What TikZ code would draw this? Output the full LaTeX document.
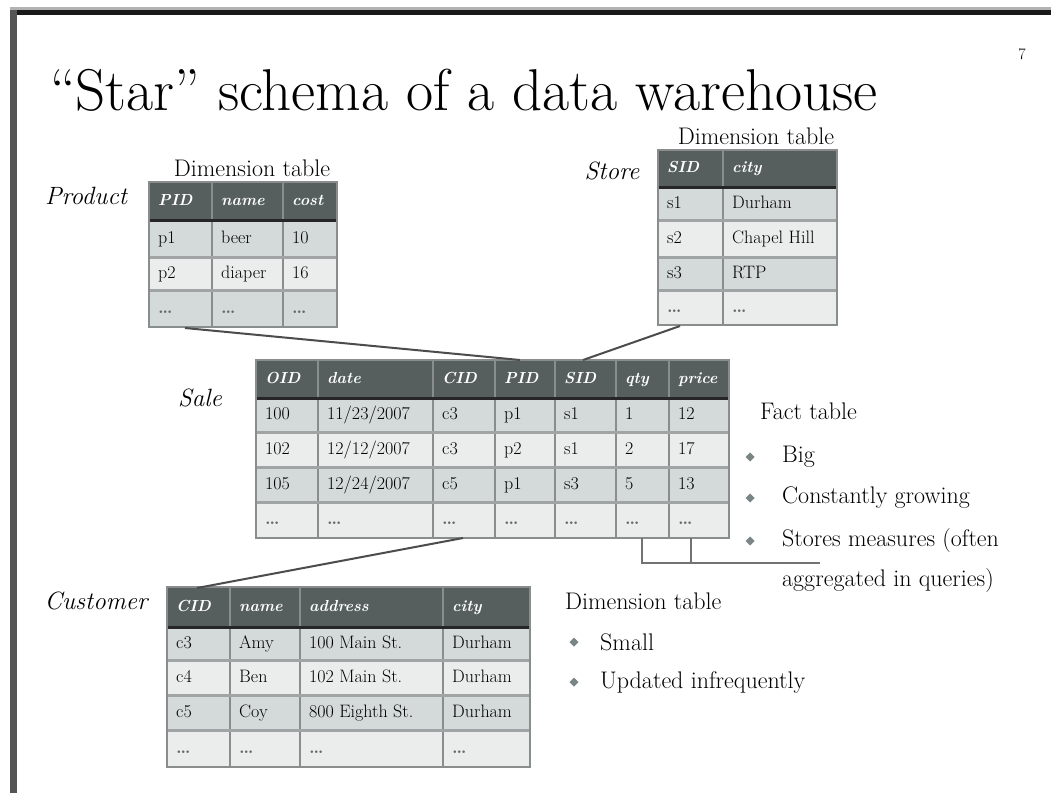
\documentclass[tikz,border=0pt]{standalone}
\usepackage{fontspec}
\usepackage{tikz}
\usetikzlibrary{calc}
\definecolor{hdrgray}{HTML}{565E5E}
\definecolor{rowdark}{HTML}{D4D9D9}
\definecolor{rowlight}{HTML}{EBEDED}
\definecolor{gridgray}{HTML}{8A8D8D}
\definecolor{framegray}{HTML}{555555}
\definecolor{bulgray}{HTML}{7A8585}
\tikzset{
	hdr/.style={anchor=west,text=white,font=\fontsize{16}{18}\selectfont\bfseries\itshape,inner sep=0pt,xshift=9pt,text height=11pt,text depth=3pt},
	cell/.style={anchor=west,font=\fontsize{18}{20}\selectfont,inner sep=0pt,xshift=9pt,text height=12pt,text depth=3pt},
	tname/.style={font=\fontsize{25}{28}\selectfont\itshape,inner sep=0pt},
	note/.style={anchor=west,font=\fontsize{24}{27}\selectfont,inner sep=0pt},
	vline/.style={gridgray,line width=2.5pt},
	hline/.style={gridgray!80,line width=3pt},
	hdrline/.style={black!85,line width=3pt},
	link/.style={black!70,line width=2pt},
	brk/.style={black!55,line width=2.5pt},
}
\newcommand{\bul}[1]{\fill[bulgray] ($(#1)+(-4.5,0)$) -- ++(4.5,-4.5) -- ++(4.5,4.5) -- ++(-4.5,4.5) -- cycle;}
\newcommand{\etc}{\textcolor{black!60}{\textbf{\dots}}}

\begin{document}
\begin{tikzpicture}[x=1pt,y=-1pt]
	\useasboundingbox (0,0) rectangle (1051,793);
	\fill[white] (0,0) rectangle (1051,793);
	% slide frame
	\fill[gray!60] (10,7) rectangle (1051,10);
	\fill[black!90] (10,10) rectangle (1051,15);
	\fill[framegray] (10,10) rectangle (17,793);

	\node[anchor=base west,font=\fontsize{59}{64}\selectfont,inner sep=0pt] (title) at (50,110) {``Star'' schema of a data warehouse};
	\node[font=\fontsize{16}{18}\selectfont,inner sep=0pt] (pgno) at (1022,54) {7};

	% Product
	\node[tname] (prod-name) at (86,196) {Product};
	\node[note,anchor=center] (prod-dim) at (252,168) {Dimension table};
	\fill[hdrgray] (149,182) rectangle (337,220);
	\foreach \ya/\yb/\c in {220/257/rowdark,257/290/rowlight,290/327/rowdark}
		\fill[\c] (149,\ya) rectangle (337,\yb);
	\foreach \x in {212,283} \draw[vline] (\x,182) -- (\x,327);
	\foreach \y in {257,290} \draw[hline] (149,\y) -- (337,\y);
	\draw[hdrline] (149,220) -- (337,220);
	\draw[vline] (149,182) rectangle (337,327);
	\foreach \x/\t [count=\i] in {149/PID,212/name,283/cost}
		\node[hdr] (prod-h\i) at (\x,201) {\t};
	\foreach \y/\row [count=\r] in {238.5/{149/p1,212/beer,283/10},273.5/{149/p2,212/diaper,283/16},308.5/{149/\etc,212/\etc,283/\etc}}
		\foreach \x/\t [count=\i] in \row
			\node[cell] (prod-\r-\i) at (\x,\y) {\t};

	% Store
	\node[tname] (store-name) at (612,171) {Store};
	\node[note,anchor=center] (store-dim) at (756,136) {Dimension table};
	\fill[hdrgray] (658,150) rectangle (837,187);
	\foreach \ya/\yb/\c in {187/220/rowdark,220/257/rowlight,257/290/rowdark,290/325/rowlight}
		\fill[\c] (658,\ya) rectangle (837,\yb);
	\draw[vline] (723,150) -- (723,325);
	\foreach \y in {220,257,290} \draw[hline] (658,\y) -- (837,\y);
	\draw[hdrline] (658,187) -- (837,187);
	\draw[vline] (658,150) rectangle (837,325);
	\foreach \x/\t [count=\i] in {658/SID,723/city}
		\node[hdr] (store-h\i) at (\x,168.5) {\t};
	\foreach \y/\row [count=\r] in {203.5/{658/s1,723/Durham},238.5/{658/s2,723/Chapel Hill},273.5/{658/s3,723/RTP},307.5/{658/\etc,723/\etc}}
		\foreach \x/\t [count=\i] in \row
			\node[cell] (store-\r-\i) at (\x,\y) {\t};

	% Sale (fact table)
	\node[tname] (sale-name) at (200,398) {Sale};
	\fill[hdrgray] (256,360) rectangle (729,398);
	\foreach \ya/\yb/\c in {398/432/rowdark,432/467/rowlight,467/502/rowdark,502/538/rowlight}
		\fill[\c] (256,\ya) rectangle (729,\yb);
	\foreach \x in {318,433,495,555,616,669} \draw[vline] (\x,360) -- (\x,538);
	\foreach \y in {432,467,502} \draw[hline] (256,\y) -- (729,\y);
	\draw[hdrline] (256,398) -- (729,398);
	\draw[vline] (256,360) rectangle (729,538);
	\foreach \x/\t [count=\i] in {256/OID,318/date,433/CID,495/PID,555/SID,616/qty,669/price}
		\node[hdr] (sale-h\i) at (\x,379) {\t};
	\foreach \y/\row [count=\r] in {415/{256/100,318/{11/23/2007},433/c3,495/p1,555/s1,616/1,669/12},449.5/{256/102,318/{12/12/2007},433/c3,495/p2,555/s1,616/2,669/17},484.5/{256/105,318/{12/24/2007},433/c5,495/p1,555/s3,616/5,669/13},520/{256/\etc,318/\etc,433/\etc,495/\etc,555/\etc,616/\etc,669/\etc}}
		\foreach \x/\t [count=\i] in \row
			\node[cell] (sale-\r-\i) at (\x,\y) {\t};

	% Customer
	\node[tname] (cust-name) at (96,601) {Customer};
	\fill[hdrgray] (167,587) rectangle (530,627);
	\foreach \ya/\yb/\c in {627/660/rowdark,660/695/rowlight,695/730/rowdark,730/767/rowlight}
		\fill[\c] (167,\ya) rectangle (530,\yb);
	\foreach \x in {230,300,443} \draw[vline] (\x,587) -- (\x,767);
	\foreach \y in {660,695,730} \draw[hline] (167,\y) -- (530,\y);
	\draw[hdrline] (167,627) -- (530,627);
	\draw[vline] (167,587) rectangle (530,767);
	\foreach \x/\t [count=\i] in {167/CID,230/name,300/address,443/city}
		\node[hdr] (cust-h\i) at (\x,607) {\t};
	\foreach \y/\row [count=\r] in {643.5/{167/c3,230/Amy,300/100 Main St.,443/Durham},677.5/{167/c4,230/Ben,300/102 Main St.,443/Durham},712.5/{167/c5,230/Coy,300/800 Eighth St.,443/Durham},748.5/{167/\etc,230/\etc,300/\etc,443/\etc}}
		\foreach \x/\t [count=\i] in \row
			\node[cell] (cust-\r-\i) at (\x,\y) {\t};

	% foreign key links
	\coordinate (prod-foot) at (185,328);
	\coordinate (sale-pid) at (520,360);
	\coordinate (store-foot) at (680,326);
	\coordinate (sale-sid) at (583,360);
	\coordinate (sale-cid) at (463,538);
	\coordinate (cust-top) at (197,588);
	\draw[link] (prod-foot) -- (sale-pid);
	\draw[link] (store-foot) -- (sale-sid);
	\draw[link] (sale-cid) -- (cust-top);

	% notes
	\node[note] (fact) at (760,411) {Fact table};
	\foreach \y/\t [count=\i] in {457/Big,498/Constantly growing,541/Stores measures (often}{
		\coordinate (fb\i) at (750,\y);
		\bul{fb\i}
		\node[note] (fact-\i) at (782,\y) {\t};
	}
	\node[note] (fact-4) at (782,580) {aggregated in queries)};
	\node[note] (dim) at (565,601) {Dimension table};
	\foreach \y/\t [count=\i] in {642/Small,682/Updated infrequently}{
		\coordinate (db\i) at (574,\y);
		\bul{db\i}
		\node[note] (dim-\i) at (600,\y) {\t};
	}

	% measures bracket
	\coordinate (qty-foot) at (642,538);
	\coordinate (price-foot) at (691,538);
	\coordinate (meas-end) at (820,563);
	\draw[brk] (qty-foot) |- (meas-end);
	\draw[brk] (price-foot) -- (price-foot |- meas-end);
\end{tikzpicture}
\end{document}
